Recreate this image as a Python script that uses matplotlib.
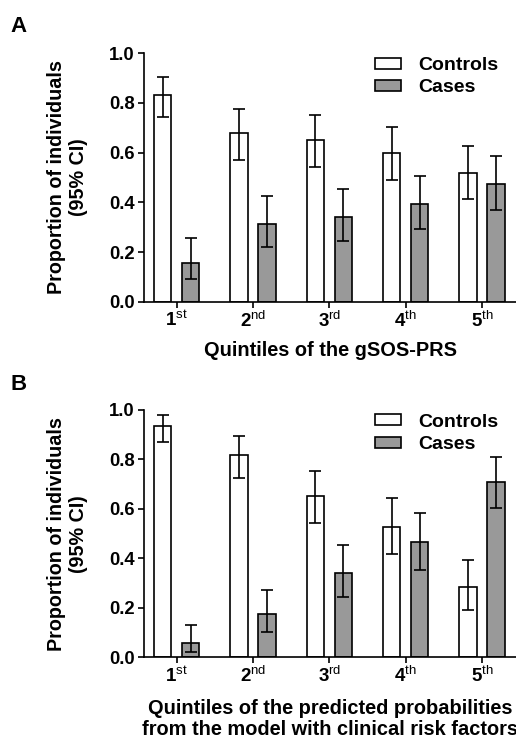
import matplotlib
matplotlib.use("Agg")
import matplotlib.pyplot as plt
import numpy as np

plt.rcParams['font.family'] = ['Liberation Sans', 'DejaVu Sans']
plt.rcParams['mathtext.fontset'] = 'custom'
plt.rcParams['mathtext.bf'] = 'Liberation Sans:weight=bold'
plt.rcParams['mathtext.rm'] = 'Liberation Sans:weight=normal'
plt.rcParams['mathtext.it'] = 'Liberation Sans:style=italic:weight=normal'
plt.rcParams['mathtext.sf'] = 'Liberation Sans:weight=normal'

quintile_labels = [r'$\mathbf{1}^{\mathrm{st}}$', r'$\mathbf{2}^{\mathrm{nd}}$',
                   r'$\mathbf{3}^{\mathrm{rd}}$', r'$\mathbf{4}^{\mathrm{th}}$',
                   r'$\mathbf{5}^{\mathrm{th}}$']
series_names = ['Controls', 'Cases']

# Panel A: gSOS-PRS quintiles
a_controls = [0.832, 0.678, 0.651, 0.597, 0.518]
a_controls_lo = [0.742, 0.570, 0.544, 0.489, 0.412]
a_controls_hi = [0.906, 0.776, 0.752, 0.703, 0.628]
a_cases = [0.157, 0.314, 0.341, 0.395, 0.474]
a_cases_lo = [0.090, 0.221, 0.246, 0.294, 0.369]
a_cases_hi = [0.255, 0.426, 0.452, 0.506, 0.585]

# Panel B: predicted probabilities quintiles
b_controls = [0.935, 0.818, 0.652, 0.528, 0.283]
b_controls_lo = [0.872, 0.726, 0.543, 0.416, 0.191]
b_controls_hi = [0.978, 0.895, 0.755, 0.646, 0.395]
b_cases = [0.057, 0.175, 0.342, 0.465, 0.710]
b_cases_lo = [0.022, 0.102, 0.245, 0.353, 0.605]
b_cases_hi = [0.129, 0.274, 0.456, 0.584, 0.809]

y_ticks = [0.0, 0.2, 0.4, 0.6, 0.8, 1.0]
y_ticklabels = ['0.0', '0.2', '0.4', '0.6', '0.8', '1.0']

W, H = 516, 739
fig = plt.figure(figsize=(W / 100, H / 100), dpi=100)

def axes_px(left, top, right, bottom):
    return fig.add_axes([left / W, 1 - bottom / H, (right - left) / W, (bottom - top) / H])

axA = axes_px(144, 53.3, 516, 301.7)
axB = axes_px(144, 410.0, 516, 657.3)

bar_w = 0.227
off = 0.183
lw = 1.2

def draw(ax, ctrl, clo, chi, case, slo, shi, xlabel, label_pad):
    x = np.arange(1, len(ctrl) + 1)
    ctrl = np.array(ctrl); case = np.array(case)
    ax.bar(x - off, ctrl, width=bar_w, color='white', edgecolor='black',
           linewidth=lw, label=series_names[0], zorder=2)
    ax.bar(x + off, case, width=bar_w, color='#999999', edgecolor='black',
           linewidth=lw, label=series_names[1], zorder=2)
    ax.errorbar(x - off, ctrl, yerr=[ctrl - np.array(clo), np.array(chi) - ctrl],
                fmt='none', ecolor='black', elinewidth=1.2, capsize=4.2,
                capthick=1.2, zorder=3)
    ax.errorbar(x + off, case, yerr=[case - np.array(slo), np.array(shi) - case],
                fmt='none', ecolor='black', elinewidth=1.2, capsize=4.2,
                capthick=1.2, zorder=3)
    ax.set_xlim(0.572, 5.447)
    ax.set_ylim(0, 1.0)
    ax.set_xticks(x)
    ax.set_xticklabels(quintile_labels, fontsize=13.5)
    ax.set_yticks(y_ticks)
    ax.set_yticklabels(y_ticklabels, fontsize=13.3, fontweight='bold')
    for s in ['top', 'right']:
        ax.spines[s].set_visible(False)
    for s in ['left', 'bottom']:
        ax.spines[s].set_linewidth(lw)
    ax.tick_params(axis='both', width=lw, length=4.5, direction='out')
    ax.tick_params(axis='x', pad=2)
    ax.tick_params(axis='y', pad=2)
    ax.set_ylabel('Proportion of individuals\n(95% CI)', fontsize=14.2,
                  fontweight='bold', labelpad=15, linespacing=1.2)
    ax.set_xlabel(xlabel, fontsize=14.4, fontweight='bold', labelpad=label_pad,
                  linespacing=1.17)
    leg = ax.legend(loc='upper left', bbox_to_anchor=(0.621, 0.985), frameon=False,
                    fontsize=14, handlelength=1.35, handleheight=0.5,
                    handletextpad=0.85, labelspacing=0.28, borderpad=0,
                    borderaxespad=0)
    for t in leg.get_texts():
        t.set_fontweight('bold')

draw(axA, a_controls, a_controls_lo, a_controls_hi, a_cases, a_cases_lo, a_cases_hi,
     'Quintiles of the gSOS-PRS', 7)
draw(axB, b_controls, b_controls_lo, b_controls_hi, b_cases, b_cases_lo, b_cases_hi,
     'Quintiles of the predicted probabilities\nfrom the model with clinical risk factors', 9)

fig.text(10 / W, 1 - 32 / H, 'A', fontsize=16, fontweight='bold', ha='left', va='baseline')
fig.text(10 / W, 1 - 390 / H, 'B', fontsize=16, fontweight='bold', ha='left', va='baseline')

fig.savefig('out.png', dpi=100)
